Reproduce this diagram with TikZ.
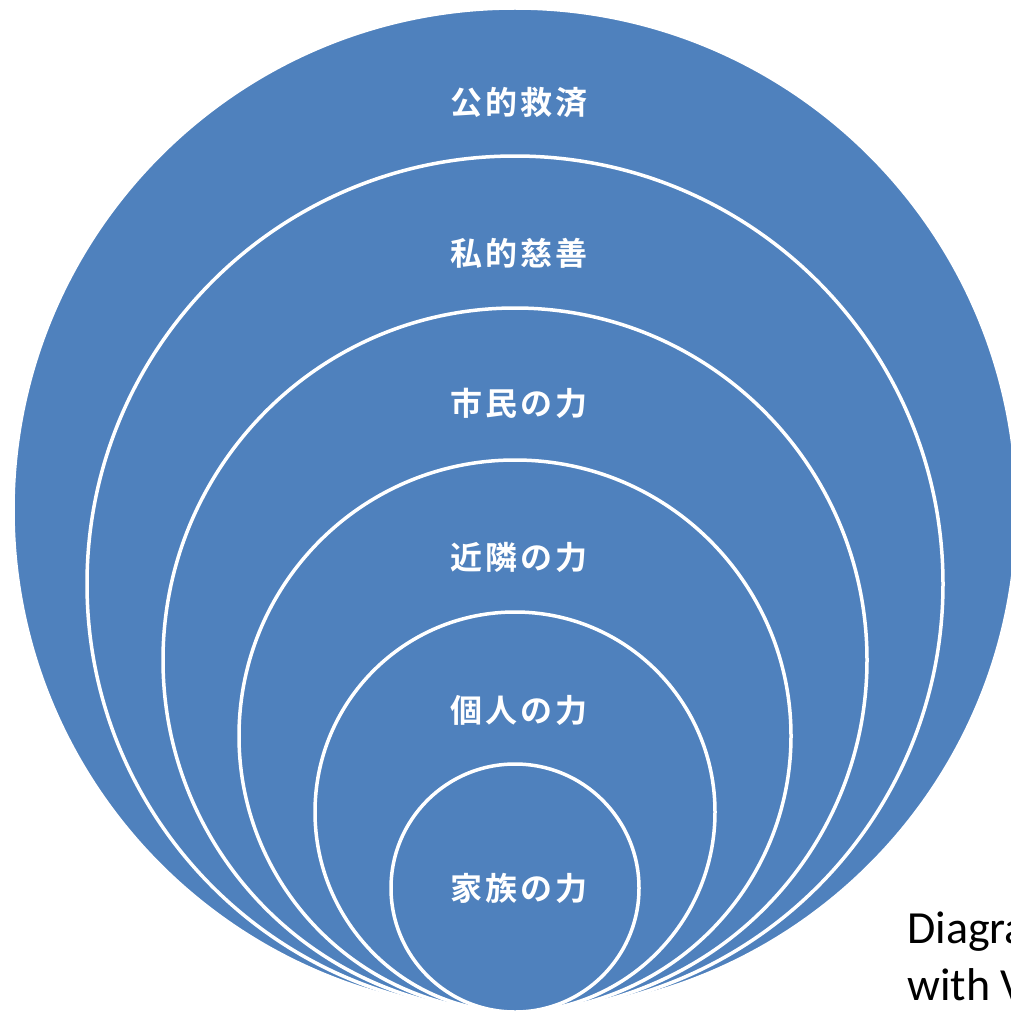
\documentclass[tikz,border=0pt]{standalone}
\usepackage{fontspec}
\newfontfamily\cjk{Noto Sans CJK JP Bold}[LetterSpace=10]
\setmainfont{Carlito}
\definecolor{ringblue}{HTML}{4F81BD}
\tikzset{
  ring/.style={circle, fill=ringblue, draw=white, line width=3.5pt, inner sep=0pt, minimum size=#1},
  ringlabel/.style={text=white, font=\cjk\fontsize{32}{36}\selectfont, inner sep=0pt},
  note/.style={text=black, font=\fontsize{46}{56}\selectfont, anchor=base west, inner sep=0pt}
}
\begin{document}
\begin{tikzpicture}[x=1pt,y=-1pt]
\useasboundingbox (0,0) rectangle (1010,1014);
\coordinate (T) at (515,1012);
\node[ring=1004pt] (c1) at (515,510) {};
\node[ring=856pt] (c2) at (515,584) {};
\node[ring=704pt] (c3) at (515,660) {};
\node[ring=552pt] (c4) at (515,736) {};
\node[ring=400pt] (c5) at (515,812) {};
\node[ring=248pt] (c6) at (515,888) {};
\node[ringlabel] (l1) at (519,103) {公的救済};
\node[ringlabel] (l2) at (519,253) {私的慈善};
\node[ringlabel] (l3) at (519,403) {市民の力};
\node[ringlabel] (l4) at (519,557) {近隣の力};
\node[ringlabel] (l5) at (519,710) {個人の力};
\node[ringlabel] (l6) at (519,888) {家族の力};
\begin{scope}
\clip (0,0) rectangle (1010,1014);
\node[note] (n1) at (907,943) {Diagram};
\node[note] (n2) at (907,1000) {with Visio};
\end{scope}
\end{tikzpicture}
\end{document}
